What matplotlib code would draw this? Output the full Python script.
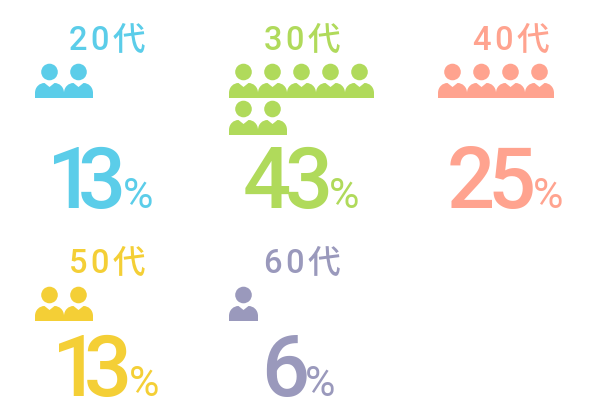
import matplotlib
matplotlib.use("Agg")
import matplotlib.pyplot as plt
from matplotlib.path import Path
from matplotlib.patches import PathPatch, Circle

ages = ["20", "30", "40", "50", "60"]
percents = [13, 43, 25, 13, 6]
icon_counts = [2, 7, 4, 2, 1]
kanji = "代"
unit = "%"

colors = ["#5BCDE9", "#B0DA5B", "#FFA38F", "#F4CF36", "#9A99BC"]
icon_left = [35, 229, 438, 35, 229]
icon_head_y = [72, 72, 72, 295, 295]
label_x = [69, 264, 473, 69, 264]
label_y = [50, 50, 50, 273, 273]
digit_x = [[71, 102], [267, 309], [470.5, 511.5], [76, 108], [285.5]]
num_y = [208, 208, 208, 396, 396]
pct_x = [123, 329, 533, 129, 305]
PITCH_X, PITCH_Y, PER_ROW = 29, 37, 5
HAIR = "\u200a"

LABEL_FONT = ["Roboto", "Noto Sans CJK JP", "DejaVu Sans"]

fig = plt.figure(figsize=(6, 4.2), dpi=100, facecolor="white")
ax = fig.add_axes([0, 0, 1, 1])
ax.set_xlim(0, 600)
ax.set_ylim(420, 0)
ax.axis("off")

def person(cx, cy, color):
    ax.add_patch(Circle((cx, cy), 8.3, fc=color, ec="none"))
    verts = [(-14.5, 26), (-14.5, 21), (-14.5, 15), (-10, 11), (-5, 11), (0, 15),
             (5, 11), (10, 11), (14.5, 15), (14.5, 21), (14.5, 26), (-14.5, 26)]
    codes = [Path.MOVETO, Path.LINETO, Path.CURVE4, Path.CURVE4, Path.CURVE4, Path.LINETO,
             Path.LINETO, Path.CURVE4, Path.CURVE4, Path.CURVE4, Path.LINETO, Path.CLOSEPOLY]
    ax.add_patch(PathPatch(Path([(cx + x, cy + y) for x, y in verts], codes), fc=color, ec="none"))

for i, age in enumerate(ages):
    c = colors[i]
    ax.text(label_x[i], label_y[i], HAIR.join(age + kanji), color=c, family=LABEL_FONT,
            fontsize=23.5, weight="medium", ha="left", va="baseline")
    for k in range(icon_counts[i]):
        person(icon_left[i] + 14.5 + PITCH_X * (k % PER_ROW),
               icon_head_y[i] + PITCH_Y * (k // PER_ROW), c)
    for ch, x in zip(str(percents[i]), digit_x[i]):
        ax.text(x, num_y[i], ch, color=c, family="Roboto", weight="medium",
                fontsize=61, ha="center", va="baseline")
    ax.text(pct_x[i], num_y[i], unit, color=c, family="Roboto",
            fontsize=30, ha="left", va="baseline")

fig.savefig("out.png", dpi=100, facecolor="white")
